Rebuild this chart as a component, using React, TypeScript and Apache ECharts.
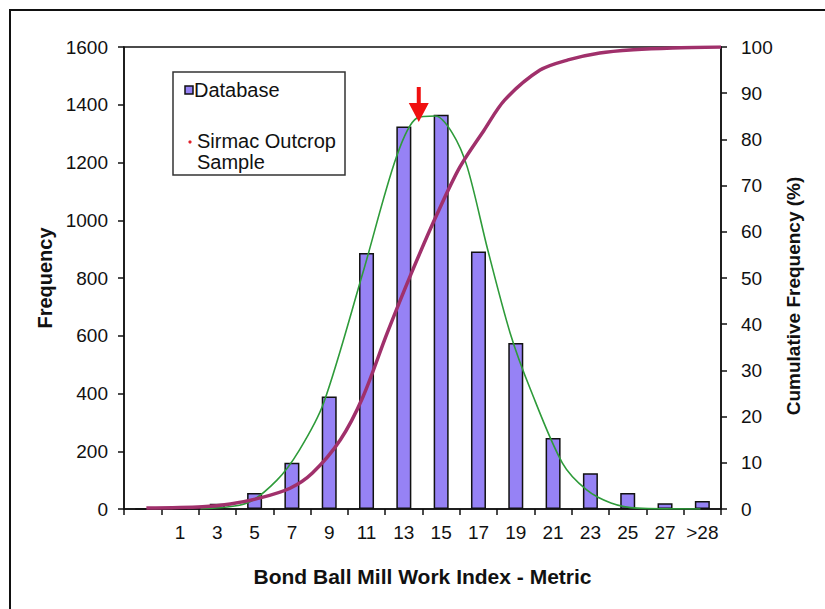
import React, { useEffect, useRef } from 'react';
import * as echarts from 'echarts';

// Categories (work index bins) and frequency counts
const categories = ['', '1', '3', '5', '7', '9', '11', '13', '15', '17', '19', '21', '23', '25', '27', '>28'];
const frequency = [0, 0, 18, 55, 160, 390, 887, 1325, 1365, 892, 575, 246, 124, 55, 20, 28];

// Fitted normal curve (x in work-index units)
const fitX = [2.1, 4.6, 6.2, 7.4, 8.7, 10.8, 12.6, 13.7, 14.7, 15.6, 16.4, 17.5, 18.7, 19.8, 21.5, 22.8, 24.1, 25.5, 28.9];
const fitY = [1, 21, 100, 204, 367, 817, 1219, 1354, 1361, 1302, 1184, 897, 609, 412, 159, 66, 21, 3, 0];

// Cumulative frequency (%)
const cumX = [-0.8, 2.2, 3.7, 5.3, 6.9, 8.1, 9.6, 10.8, 12.1, 13.4, 14.8, 16.0, 17.3, 18.4, 20.3, 21.8, 23.5, 25.3, 27.4, 30];
const cumY = [0.2, 0.5, 1.1, 2.4, 4.5, 7.8, 15, 24.2, 38, 51, 64, 74, 82, 88.5, 95, 97.2, 98.7, 99.4, 99.8, 100];

// Sirmac outcrop sample position
const sampleX = [13.8];
const sampleY = [1340];

const leftTicks = { min: 0, max: 1600, interval: 200 };
const rightTicks = { min: 0, max: 100, interval: 10 };

const FONT = 'Liberation Sans, Arial, sans-serif';

export default function App() {
  const ref = useRef<HTMLDivElement>(null);
  useEffect(() => {
    if (!ref.current) return;
    const chart = echarts.init(ref.current, undefined, { renderer: 'svg' });
    const axisCommon = {
      axisLine: { show: true, onZero: false, lineStyle: { color: '#111', width: 1.5 } },
      axisTick: { show: true, length: 6, lineStyle: { color: '#111', width: 1.5 } },
      axisLabel: { color: '#111', fontSize: 19, fontFamily: FONT },
      splitLine: { show: false },
      nameTextStyle: { color: '#111', fontSize: 19, fontWeight: 'bold', fontFamily: FONT },
    };
    const plain = (v: number) => String(v);
    chart.setOption({
      animation: false,
      backgroundColor: '#fff',
      textStyle: { fontFamily: FONT },
      grid: { left: 124, right: 104, top: 47, bottom: 100, show: true, borderColor: '#111', borderWidth: 1.5, containLabel: false },
      xAxis: [
        {
          type: 'category',
          data: categories,
          boundaryGap: true,
          ...axisCommon,
          axisLabel: { ...axisCommon.axisLabel, margin: 14, interval: 0 },
          name: 'Bond Ball Mill Work Index - Metric',
          nameLocation: 'middle',
          nameGap: 57,
          nameTextStyle: { ...axisCommon.nameTextStyle, fontSize: 21 },
        },
        { type: 'value', min: -2, max: 30, show: false },
      ],
      yAxis: [
        {
          type: 'value',
          position: 'left',
          ...leftTicks,
          ...axisCommon,
          axisLabel: { ...axisCommon.axisLabel, margin: 16, formatter: plain },
          name: 'Frequency',
          nameLocation: 'middle',
          nameRotate: 90,
          nameGap: 64,
          nameTextStyle: { ...axisCommon.nameTextStyle, fontSize: 20 },
        },
        {
          type: 'value',
          position: 'right',
          ...rightTicks,
          ...axisCommon,
          axisLabel: { ...axisCommon.axisLabel, margin: 20, formatter: plain },
          name: 'Cumulative Frequency (%)',
          nameLocation: 'middle',
          nameRotate: 90,
          nameGap: 62,
          nameTextStyle: { ...axisCommon.nameTextStyle, padding: [0, 36, 0, 0] },
        },
      ],
      series: [
        {
          name: 'Database',
          type: 'bar',
          xAxisIndex: 0,
          yAxisIndex: 0,
          data: frequency,
          barWidth: 15,
          itemStyle: { color: '#9682F5', borderColor: '#111', borderWidth: 1.5 },
          z: 2,
        },
        {
          name: 'Normal fit',
          type: 'line',
          xAxisIndex: 1,
          yAxisIndex: 0,
          data: fitX.map((x, i) => [x, fitY[i]]),
          smooth: 0.3,
          showSymbol: false,
          lineStyle: { color: '#2E9B3A', width: 1.6 },
          z: 3,
        },
        {
          name: 'Cumulative',
          type: 'line',
          xAxisIndex: 1,
          yAxisIndex: 1,
          data: cumX.map((x, i) => [x, cumY[i]]),
          smooth: 0.3,
          showSymbol: false,
          lineStyle: { color: '#A0306B', width: 3.5 },
          z: 4,
        },
        {
          name: 'Sirmac Outcrop Sample',
          type: 'scatter',
          xAxisIndex: 1,
          yAxisIndex: 0,
          data: sampleX.map((x, i) => [x, sampleY[i]]),
          symbol: 'path://M8,0 L12,0 L12,16 L20,16 L10,35 L0,16 L8,16 Z',
          symbolSize: [20, 35],
          symbolOffset: [0, '-50%'],
          itemStyle: { color: '#F01010', opacity: 1 },
          z: 5,
        },
      ],
      graphic: [
        { type: 'rect', shape: { x: 10, y: 10, width: 830, height: 620 }, style: { fill: 'none', stroke: '#111', lineWidth: 2 }, silent: true, z: 0 },
        { type: 'rect', shape: { x: 173, y: 72, width: 172, height: 103 }, style: { fill: '#fff', stroke: '#333', lineWidth: 1.5 }, z: 10 },
        { type: 'rect', shape: { x: 185, y: 86, width: 8, height: 8 }, style: { fill: '#9682F5', stroke: '#111', lineWidth: 1.5 }, z: 11 },
        { type: 'text', x: 194, y: 90, style: { text: 'Database', fill: '#111', fontSize: 20, fontFamily: FONT, verticalAlign: 'middle' }, z: 11 },
        { type: 'circle', shape: { cx: 190, cy: 142, r: 1.6 }, style: { fill: '#E0202A' }, z: 11 },
        { type: 'text', x: 197, y: 141, style: { text: 'Sirmac Outcrop', fill: '#111', fontSize: 20, fontFamily: FONT, verticalAlign: 'middle' }, z: 11 },
        { type: 'text', x: 197, y: 162, style: { text: 'Sample', fill: '#111', fontSize: 20, fontFamily: FONT, verticalAlign: 'middle' }, z: 11 },
      ],
    });
    return () => chart.dispose();
  }, []);
  return <div ref={ref} style={{ position: 'fixed', left: 0, top: 0, width: 825, height: 609 }} />;
}
